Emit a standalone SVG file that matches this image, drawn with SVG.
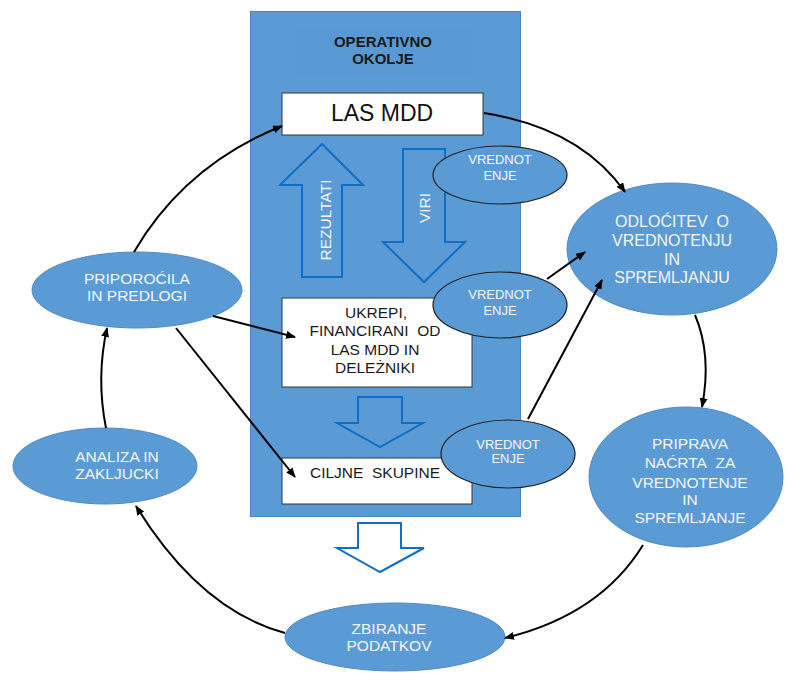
<svg xmlns="http://www.w3.org/2000/svg" width="787" height="673" viewBox="0 0 787 673">
<style>
.t{font-family:"Liberation Sans",Arial,sans-serif;text-anchor:middle}
.w{fill:#F4F6FA;font-size:15.5px}
.b{fill:#1a1a1a;font-size:15.5px}
.v{fill:#F4F6FA;font-size:13px}
.box{fill:#fff;stroke:#333;stroke-width:1}
.el{fill:#5B9BD5;stroke:#5189C2;stroke-width:1}
.ev{fill:#5B9BD5;stroke:#222;stroke-width:1.2}
.ba{fill:none;stroke:#0F6FC6;stroke-width:2;stroke-linejoin:miter}
.c{fill:none;stroke:#000;stroke-width:2;marker-end:url(#ah)}
</style>
<defs>
<marker id="ah" viewBox="0 0 10 8" refX="9" refY="4" markerWidth="10" markerHeight="8" markerUnits="userSpaceOnUse" orient="auto"><path d="M0,0 L10,4 L0,8 z" fill="#000"/></marker>
</defs>
<rect width="787" height="673" fill="#fff"/>

<g id="operativno-okolje">
<rect x="250.5" y="11.5" width="270" height="505" fill="#5B9BD5" stroke="#4A84BE" stroke-width="1"/>
<rect x="296" y="27" width="176" height="50" fill="#5999D3"/>
<text class="t" x="383" y="47" style="font-size:15px;font-weight:bold;fill:#1a1a1a">OPERATIVNO</text>
<text class="t" x="383" y="64" style="font-size:15px;font-weight:bold;fill:#1a1a1a">OKOLJE</text>
</g>

<g id="las-mdd">
<rect class="box" x="282" y="93" width="201" height="42"/>
<text class="t" x="382" y="121" style="font-size:23px;fill:#111">LAS MDD</text>
</g>

<g id="rezultati">
<path class="ba" d="M322,144 L363,185 L342,185 L342,277 L302,277 L302,185 L280,185 Z"/>
<text class="t w" transform="translate(331,220) rotate(-90)">REZULTATI</text>
</g>

<g id="viri">
<path class="ba" d="M403,149 L445,149 L445,242 L465,242 L424,282 L383,242 L403,242 Z"/>
<text class="t w" transform="translate(430,208) rotate(-90)">VIRI</text>
</g>

<g id="ukrepi">
<rect class="box" x="282" y="298" width="190" height="89"/>
<text class="t b" x="376" y="318">UKREPI,</text>
<text class="t b" x="375" y="336">FINANCIRANI&#160; OD</text>
<text class="t b" x="375" y="355">LAS MDD IN</text>
<text class="t b" x="375" y="373">DELEŻNIKI</text>
</g>

<g id="puscica-ciljne">
<path class="ba" d="M358,397 L402,397 L402,423 L423,423 L380,447 L337,423 L358,423 Z"/>
</g>

<g id="ciljne-skupine">
<rect class="box" x="282" y="458" width="190" height="46"/>
<text class="t b" x="375" y="478">CILJNE&#160; SKUPINE</text>
</g>

<g id="puscica-izhod">
<path class="ba" d="M358,523 L401,523 L401,548 L424,548 L380,572 L337,548 L358,548 Z"/>
</g>

<g id="vrednotenje-1">
<ellipse class="ev" cx="500" cy="175" rx="67" ry="29"/>
<text class="t v" x="500" y="164">VREDNOT</text>
<text class="t v" x="500" y="180">ENJE</text>
</g>

<g id="vrednotenje-2">
<ellipse class="ev" cx="500" cy="305" rx="67" ry="33"/>
<text class="t v" x="500" y="299">VREDNOT</text>
<text class="t v" x="500" y="315">ENJE</text>
</g>

<g id="vrednotenje-3">
<ellipse class="ev" cx="508" cy="454" rx="67" ry="34"/>
<text class="t v" x="508" y="449">VREDNOT</text>
<text class="t v" x="508" y="463">ENJE</text>
</g>

<g id="odlocitev">
<ellipse class="el" cx="672" cy="249" rx="105" ry="66"/>
<text class="t w" x="672" y="227" style="font-size:16px">ODLOĆITEV&#160; O</text>
<text class="t w" x="672" y="246" style="font-size:16px">VREDNOTENJU</text>
<text class="t w" x="672" y="265" style="font-size:16px">IN</text>
<text class="t w" x="672" y="283" style="font-size:16px">SPREMLJANJU</text>
</g>

<g id="priprava">
<ellipse class="el" cx="686" cy="477" rx="97" ry="70"/>
<text class="t w" x="690" y="449">PRIPRAVA</text>
<text class="t w" x="690" y="468">NAĆRTA&#160; ZA</text>
<text class="t w" x="690" y="488">VREDNOTENJE</text>
<text class="t w" x="690" y="505">IN</text>
<text class="t w" x="690" y="523">SPREMLJANJE</text>
</g>

<g id="zbiranje">
<ellipse class="el" cx="395" cy="637" rx="110" ry="34"/>
<text class="t w" x="389" y="634">ZBIRANJE</text>
<text class="t w" x="389" y="651">PODATKOV</text>
</g>

<g id="analiza">
<ellipse class="el" cx="105" cy="466" rx="92" ry="38"/>
<text class="t w" x="117" y="462">ANALIZA IN</text>
<text class="t w" x="117" y="479">ZAKLJUCKI</text>
</g>

<g id="priporocila">
<ellipse class="el" cx="137" cy="290" rx="105" ry="38"/>
<text class="t w" x="137" y="284">PRIPOROĆILA</text>
<text class="t w" x="137" y="301">IN PREDLOGI</text>
</g>

<g id="connectors">
<path class="c" d="M134,252 Q185,165 282,126"/>
<path class="c" d="M484,113 Q580,128 625,192"/>
<path class="c" d="M695,315 Q712,355 702,407"/>
<path class="c" d="M643,545 Q600,615 505,638"/>
<path class="c" d="M285,633 Q200,610 136,506"/>
<path class="c" d="M106,428 Q96,378 107,328"/>
<path class="c" d="M213,316 L295,337"/>
<path class="c" d="M176,328 L295,477"/>
<path class="c" d="M547,279 L585,252"/>
<path class="c" d="M528,419 L602,280"/>
</g>
</svg>
